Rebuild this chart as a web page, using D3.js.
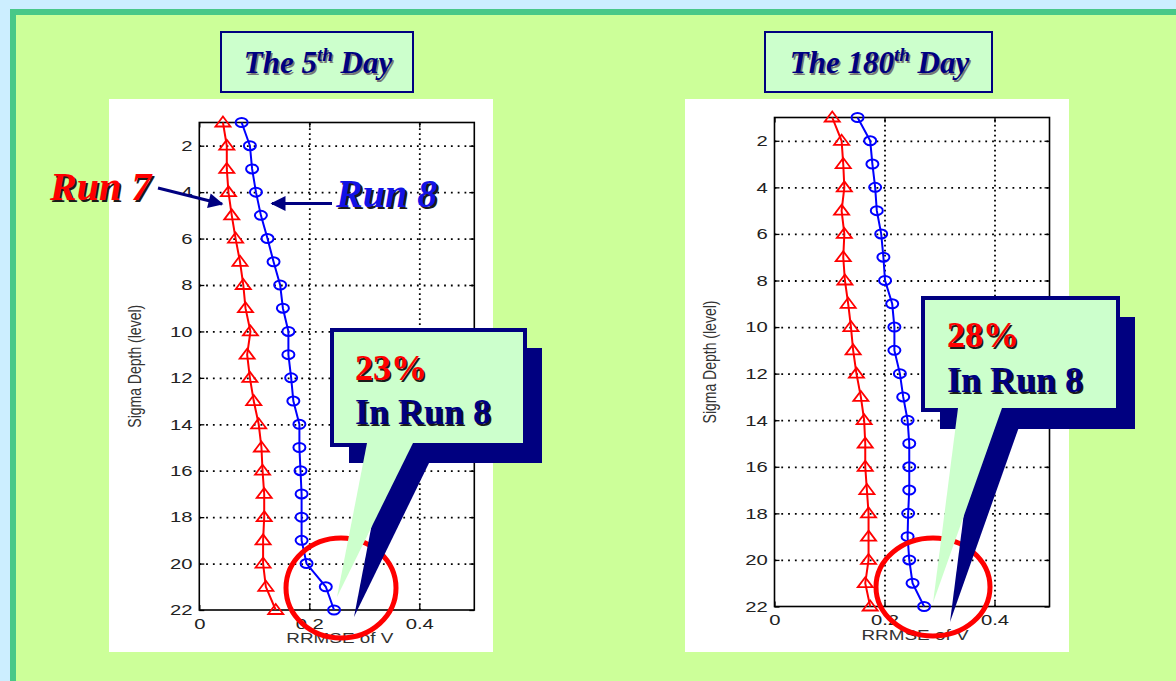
<!DOCTYPE html>
<html><head><meta charset="utf-8">
<script src="https://cdn.jsdelivr.net/npm/d3@7"></script>
<style>body{margin:0;background:#cceeff;} svg{display:block;}</style>
</head><body><svg id="c" width="1176" height="681"></svg>
<script>
// ---------- data ----------
const levels = [1,2,3,4,5,6,7,8,9,10,11,12,13,14,15,16,17,18,19,20,21,22];
const day5Run7 = [0.043,0.050,0.050,0.053,0.059,0.066,0.074,0.080,0.084,0.093,0.087,0.092,0.099,0.108,0.113,0.115,0.118,0.118,0.116,0.116,0.121,0.139];
const day5Run8 = [0.077,0.092,0.096,0.103,0.112,0.124,0.135,0.147,0.152,0.162,0.162,0.167,0.171,0.182,0.182,0.184,0.186,0.186,0.186,0.195,0.230,0.245];
const day180Run7 = [0.105,0.122,0.125,0.127,0.122,0.127,0.125,0.128,0.134,0.139,0.143,0.149,0.157,0.163,0.165,0.165,0.168,0.171,0.171,0.171,0.165,0.174];
const day180Run8 = [0.151,0.174,0.178,0.183,0.186,0.194,0.198,0.201,0.214,0.218,0.218,0.228,0.234,0.242,0.245,0.245,0.245,0.243,0.242,0.245,0.251,0.272];
const xTickValues = [0, 0.2, 0.4];
const xTickLabels = ["0", "0.2", "0.4"];
const yTickValues = [2,4,6,8,10,12,14,16,18,20,22];
const yGridValues = [2,4,6,8,10,12,14,16,18,20];
const xGridValues = [0.2, 0.4];
const xDomain = [0, 0.5];
const yDomain = [1, 22];
const titleParts = [["The 5","th"," Day"], ["The 180","th"," Day"]];
const calloutPercents = ["23%", "28%"];
const calloutLine2 = "In Run 8";
const seriesNames = ["Run 7", "Run 8"];
const xLabel = "RRMSE of V";
const yLabel = "Sigma Depth (level)";

// ---------- layout ----------
const svg = d3.select("#c");
svg.append("rect").attr("x",0).attr("y",0).attr("width",1176).attr("height",681).attr("fill","#cceeff");
svg.append("rect").attr("x",10).attr("y",9).attr("width",1166).attr("height",672).attr("fill","#48c888");
svg.append("rect").attr("x",16).attr("y",15).attr("width",1160).attr("height",666).attr("fill","#ccff99");

const panels = [
  {px:109, py:99, pw:384, ph:553, left:199.3, right:474.3, top:122.5, bottom:610, r7:day5Run7, r8:day5Run8,
   ylabX:141, xlabY:643, title:{x:221,y:32,w:192,h:60,ty:73}, tparts:titleParts[0],
   ell:{cx:341,cy:588,rx:55,ry:50},
   call:{x:332,y:330,w:193,h:115, b1:367,b2:413, tip:[337,597], sdx:17, sdy:18, stip:[354,617], pct:calloutPercents[0], tx:355, ty1:380, ty2:424}},
  {px:685, py:99, pw:384, ph:553, left:774.5, right:1049.5, top:117.5, bottom:606.5, r7:day180Run7, r8:day180Run8,
   ylabX:716, xlabY:640, title:{x:765,y:32,w:227,h:60,ty:73}, tparts:titleParts[1],
   ell:{cx:933,cy:587,rx:57,ry:49},
   call:{x:923,y:298,w:195,h:112, b1:958,b2:1002, tip:[933,603], sdx:17, sdy:19, stip:[950,622], pct:calloutPercents[1], tx:947, ty1:347, ty2:392}}
];

const SX = 1.35; // horizontal stretch of the original axis text

function drawPanel(p){
  const g = svg.append("g");
  g.append("rect").attr("x",p.px).attr("y",p.py).attr("width",p.pw).attr("height",p.ph).attr("fill","#ffffff");
  const x = d3.scaleLinear().domain(xDomain).range([p.left, p.right]);
  const y = d3.scaleLinear().domain(yDomain).range([p.top, p.bottom]);
  const H = p.bottom - p.top, W = p.right - p.left;

  // grid
  const gx = g.append("g").attr("transform",`translate(0,${p.bottom})`)
    .call(d3.axisBottom(x).tickValues(xGridValues).tickSize(-H).tickFormat(""));
  gx.select(".domain").remove();
  gx.selectAll("line").attr("stroke","#000").attr("stroke-width",1.8).attr("stroke-dasharray","1.8,3.2");
  const gy = g.append("g").attr("transform",`translate(${p.left},0)`)
    .call(d3.axisLeft(y).tickValues(yGridValues).tickSize(-W).tickFormat(""));
  gy.select(".domain").remove();
  gy.selectAll("line").attr("stroke","#000").attr("stroke-width",1.8).attr("stroke-dasharray","1.8,5");

  // axes with inward ticks
  const fmt = (d) => xTickLabels[xTickValues.indexOf(d)];
  const aB = g.append("g").attr("transform",`translate(0,${p.bottom})`)
    .call(d3.axisBottom(x).tickValues(xTickValues).tickSizeInner(-5).tickSizeOuter(0).tickPadding(8).tickFormat(fmt));
  const aL = g.append("g").attr("transform",`translate(${p.left},0)`)
    .call(d3.axisLeft(y).tickValues(yTickValues).tickSizeInner(-5).tickSizeOuter(0).tickPadding(5));
  const aT = g.append("g").attr("transform",`translate(0,${p.top})`)
    .call(d3.axisTop(x).tickValues(xTickValues).tickSizeInner(-5).tickSizeOuter(0).tickFormat(""));
  const aR = g.append("g").attr("transform",`translate(${p.right},0)`)
    .call(d3.axisRight(y).tickValues(yTickValues).tickSizeInner(-5).tickSizeOuter(0).tickFormat(""));
  [aB,aL,aT,aR].forEach(a => {
    a.select(".domain").remove();
    a.selectAll("line").attr("stroke","#000").attr("stroke-width",1.3);
  });
  [aB,aL].forEach(a => a.selectAll("text")
    .attr("font-family","Liberation Sans, Arial, sans-serif").attr("font-size",15)
    .attr("fill","#222").attr("transform",`scale(${SX},1)`));
  aB.selectAll("text").attr("x",0);
  // frame
  g.append("rect").attr("x",p.left).attr("y",p.top).attr("width",W).attr("height",H)
    .attr("fill","none").attr("stroke","#000").attr("stroke-width",1.6);

  // axis labels
  g.append("text").attr("transform",`translate(${(p.left+p.right)/2+3},${p.xlabY}) scale(${SX},1)`)
    .attr("text-anchor","middle").attr("font-family","Liberation Sans, Arial, sans-serif")
    .attr("font-size",14).attr("fill","#333").text(xLabel);
  g.append("text").attr("transform",`translate(${p.ylabX},${(p.top+p.bottom)/2}) scale(${SX},1) rotate(-90)`)
    .attr("text-anchor","middle").attr("font-family","Liberation Sans, Arial, sans-serif")
    .attr("font-size",14).attr("fill","#333").text(yLabel);

  // series
  const line = d3.line().x(d => x(d[1])).y(d => y(d[0]));
  const s7 = levels.map((l,i) => [l, p.r7[i]]);
  const s8 = levels.map((l,i) => [l, p.r8[i]]);
  g.append("path").datum(s7).attr("d",line).attr("fill","none").attr("stroke","#ff0000").attr("stroke-width",2);
  g.append("path").datum(s8).attr("d",line).attr("fill","none").attr("stroke","#0000ff").attr("stroke-width",2);
  g.selectAll(".tri").data(s7).join("path")
    .attr("transform", d => `translate(${x(d[1])},${y(d[0])})`)
    .attr("d","M0,-6L7.5,4L-7.5,4Z").attr("fill","none").attr("stroke","#ff0000").attr("stroke-width",1.8);
  g.selectAll(".circ").data(s8).join("ellipse")
    .attr("cx", d => x(d[1])).attr("cy", d => y(d[0])).attr("rx",6).attr("ry",4.5)
    .attr("fill","none").attr("stroke","#0000ff").attr("stroke-width",2);
}
panels.forEach(drawPanel);

// defs for arrows
const defs = svg.append("defs");
defs.append("marker").attr("id","ah").attr("viewBox","0 0 10 10").attr("refX",9).attr("refY",5)
  .attr("markerWidth",6).attr("markerHeight",5).attr("markerUnits","strokeWidth").attr("orient","auto")
  .append("path").attr("d","M0,0L10,5L0,10Z").attr("fill","#000080");

function shadowText(x, y, txt, size, fill, shadow, italic, off){
  [[shadow, off],[fill, 0]].forEach(([c,o]) => {
    svg.append("text").attr("x",x+o).attr("y",y+o).attr("font-family","Liberation Serif, Times New Roman, serif")
      .attr("font-weight","bold").attr("font-style", italic ? "italic" : "normal")
      .attr("font-size",size).attr("fill",c).text(txt);
  });
}

// Run labels and arrows (left panel)
shadowText(50, 200, seriesNames[0], 40, "#ff0000", "#1a1a1a", true, 2);
shadowText(336, 207, seriesNames[1], 40, "#1212e6", "#1a1a1a", true, 2);
svg.append("line").attr("x1",158).attr("y1",188).attr("x2",222).attr("y2",204)
  .attr("stroke","#000080").attr("stroke-width",3).attr("marker-end","url(#ah)");
svg.append("line").attr("x1",332).attr("y1",203.5).attr("x2",272).attr("y2",203.5)
  .attr("stroke","#000080").attr("stroke-width",3).attr("marker-end","url(#ah)");

// ellipses and callouts
panels.forEach(p => {
  svg.append("ellipse").attr("cx",p.ell.cx).attr("cy",p.ell.cy).attr("rx",p.ell.rx).attr("ry",p.ell.ry)
    .attr("fill","none").attr("stroke","#ff0000").attr("stroke-width",5);
  const c = p.call;
  // shadow
  svg.append("rect").attr("x",c.x+c.sdx).attr("y",c.y+c.sdy).attr("width",c.w).attr("height",c.h).attr("fill","#000080");
  svg.append("path").attr("d",`M${c.b1+c.sdx},${c.y+c.h+c.sdy-2}L${c.stip[0]},${c.stip[1]}L${c.b2+c.sdx},${c.y+c.h+c.sdy-2}Z`).attr("fill","#000080");
  // box
  svg.append("rect").attr("x",c.x).attr("y",c.y).attr("width",c.w).attr("height",c.h)
    .attr("fill","#ccffcc").attr("stroke","#000080").attr("stroke-width",4);
  svg.append("path").attr("d",`M${c.b1},${c.y+c.h-2}L${c.tip[0]},${c.tip[1]}L${c.b2},${c.y+c.h-2}Z`).attr("fill","#ccffcc");
  shadowText(c.tx, c.ty1, c.pct, 36, "#ff0000", "#1a1a1a", false, 1.5);
  shadowText(c.tx, c.ty2, calloutLine2, 36, "#000080", "#1a1a1a", false, 1.5);
});

// titles
panels.forEach(p => {
  const t = p.title;
  svg.append("rect").attr("x",t.x).attr("y",t.y).attr("width",t.w).attr("height",t.h)
    .attr("fill","#ccffcc").attr("stroke","#000080").attr("stroke-width",2);
  [["#777",1.5],["#000080",0]].forEach(([col,o]) => {
    const tx = svg.append("text").attr("x",t.x+t.w/2+o+1).attr("y",t.ty+o).attr("text-anchor","middle")
      .attr("font-family","Liberation Serif, Times New Roman, serif").attr("font-weight","bold")
      .attr("font-style","italic").attr("font-size",31).attr("fill",col);
    tx.append("tspan").text(p.tparts[0]);
    tx.append("tspan").attr("dy",-12).attr("font-size",19).text(p.tparts[1]);
    tx.append("tspan").attr("dy",12).text(p.tparts[2]);
  });
});
</script></body></html>
